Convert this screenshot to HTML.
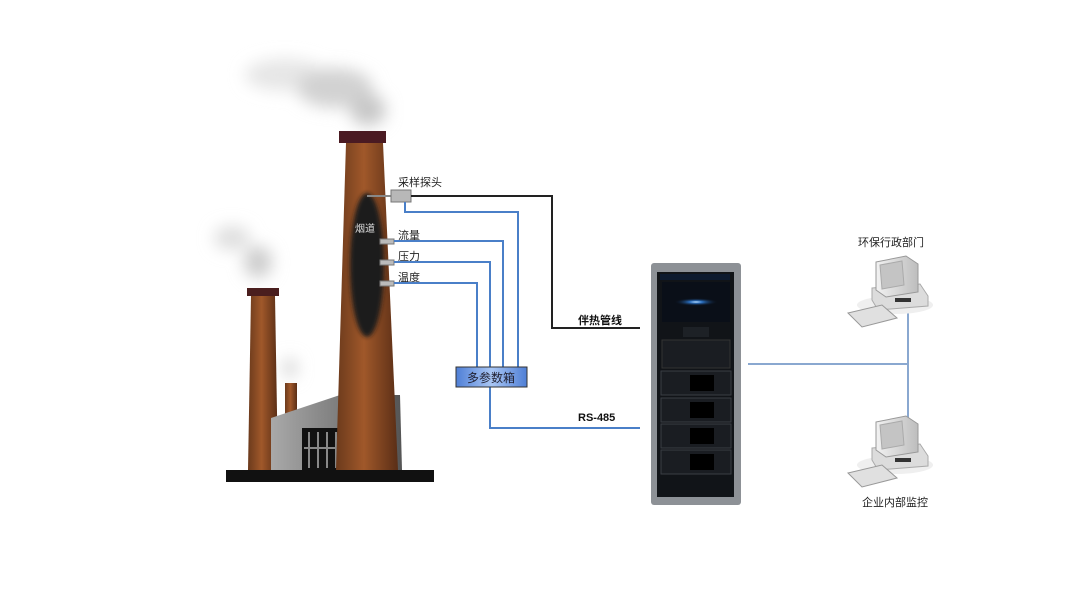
<!DOCTYPE html>
<html><head><meta charset="utf-8"><style>
html,body{margin:0;padding:0;background:#fff;width:1077px;height:605px;overflow:hidden}
text{font-family:"Liberation Sans","Noto Sans CJK SC",sans-serif}
</style></head><body>
<svg width="1077" height="605" viewBox="0 0 1077 605" xmlns="http://www.w3.org/2000/svg">
<defs>
<filter id="blur" x="-50%" y="-50%" width="200%" height="200%"><feGaussianBlur stdDeviation="8"/></filter>
<filter id="blur2" x="-50%" y="-50%" width="200%" height="200%"><feGaussianBlur stdDeviation="2"/></filter>
<linearGradient id="brown" x1="0" x2="1"><stop offset="0" stop-color="#6b3a1c"/><stop offset="0.45" stop-color="#a0582a"/><stop offset="1" stop-color="#5a2e16"/></linearGradient>
<linearGradient id="bld" x1="0" x2="1"><stop offset="0" stop-color="#a9a9a9"/><stop offset="1" stop-color="#555"/></linearGradient>
<linearGradient id="box" x1="0" x2="1"><stop offset="0" stop-color="#4f7fd6"/><stop offset="0.5" stop-color="#a9c6f4"/><stop offset="1" stop-color="#4f7fd6"/></linearGradient>
<linearGradient id="mon" x1="0" x2="1"><stop offset="0" stop-color="#f2f2f2"/><stop offset="1" stop-color="#bdbdbd"/></linearGradient>
<radialGradient id="glow"><stop offset="0" stop-color="#bfe0ff"/><stop offset="0.3" stop-color="#2a6fc0"/><stop offset="1" stop-color="#0a0f18" stop-opacity="0"/></radialGradient>
</defs>
<!-- smoke -->
<g filter="url(#blur)" fill="#cfcfcf">
<ellipse cx="285" cy="75" rx="40" ry="16" fill="#e6e6e6"/>
<ellipse cx="335" cy="88" rx="38" ry="20" fill="#d2d2d2"/>
<ellipse cx="368" cy="110" rx="18" ry="16" fill="#c8c8c8"/>
<ellipse cx="232" cy="238" rx="18" ry="12" fill="#dedede"/>
<ellipse cx="258" cy="262" rx="14" ry="16" fill="#cccccc"/>
<ellipse cx="290" cy="368" rx="7" ry="10" fill="#d4d4d4"/>
</g>
<!-- small chimneys -->
<rect x="247" y="288" width="32" height="8" fill="#4a1e1e"/>
<polygon points="251,296 275,296 278,470 248,470" fill="url(#brown)"/>
<rect x="285" y="383" width="12" height="40" fill="url(#brown)"/>
<!-- building -->
<polygon points="271,418 340,395 400,395 402,470 271,470" fill="url(#bld)"/>
<rect x="302" y="428" width="45" height="42" fill="#111"/>
<g stroke="#888" stroke-width="2"><line x1="309" y1="432" x2="309" y2="468"/><line x1="318" y1="432" x2="318" y2="468"/><line x1="327" y1="432" x2="327" y2="468"/><line x1="336" y1="432" x2="336" y2="468"/><line x1="304" y1="448" x2="345" y2="448"/></g>
<!-- main chimney -->
<rect x="339" y="131" width="47" height="12" fill="#4a1a22"/>
<polygon points="346,143 383,143 398,470 336,470" fill="url(#brown)"/>
<ellipse cx="367" cy="265" rx="17" ry="72" fill="#1c1c1c" filter="url(#blur2)"/>
<text x="355" y="232" font-size="10" fill="#ddd">烟道</text>
<rect x="226" y="470" width="208" height="12" fill="#111"/>
<!-- probes -->
<line x1="367" y1="196" x2="392" y2="196" stroke="#888" stroke-width="2"/>
<rect x="391" y="190" width="20" height="12" fill="#b8b8b8" stroke="#777"/>
<g fill="#bbb" stroke="#777"><rect x="380" y="239" width="14" height="5"/><rect x="380" y="260" width="14" height="5"/><rect x="380" y="281" width="14" height="5"/></g>
<text x="398" y="186" font-size="11" fill="#222">采样探头</text>
<text x="398" y="239" font-size="11" fill="#222">流量</text>
<text x="398" y="260" font-size="11" fill="#222">压力</text>
<text x="398" y="281" font-size="11" fill="#222">温度</text>
<!-- lines -->
<polyline points="411,196 552,196 552,328 640,328" fill="none" stroke="#222" stroke-width="2"/>
<g fill="none" stroke="#4a7fc8" stroke-width="2">
<polyline points="405,202 405,212 518,212 518,370"/>
<polyline points="394,241 503,241 503,370"/>
<polyline points="394,262 490,262 490,370"/>
<polyline points="394,283 477,283 477,370"/>
<polyline points="490,387 490,428 640,428"/>
<line x1="748" y1="364" x2="908" y2="364" stroke="#8aa8d0"/>
<line x1="908" y1="305" x2="908" y2="420" stroke="#8aa8d0"/>
</g>
<rect x="456" y="367" width="71" height="20" fill="url(#box)" stroke="#333"/>
<text x="491" y="382" font-size="12" fill="#223" text-anchor="middle">多参数箱</text>
<text x="578" y="324" font-size="11" font-weight="bold" fill="#111">伴热管线</text>
<text x="578" y="421" font-size="11" font-weight="bold" fill="#111">RS-485</text>
<!-- cabinet -->
<rect x="651" y="263" width="90" height="242" rx="3" fill="#8d9196"/>
<rect x="657" y="272" width="77" height="225" fill="#111418"/>
<rect x="660" y="274" width="70" height="6" fill="#0d1a2e"/>
<rect x="662" y="282" width="68" height="40" fill="#0a0f18"/>
<ellipse cx="696" cy="302" rx="22" ry="4" fill="url(#glow)"/>
<rect x="683" y="327" width="26" height="10" fill="#1d2126"/>
<rect x="662" y="340" width="68" height="28" fill="#1a1d22" stroke="#333"/>
<g fill="#1a1d22" stroke="#3a3e44">
<rect x="661" y="371" width="70" height="24"/><rect x="661" y="398" width="70" height="24"/><rect x="661" y="424" width="70" height="24"/><rect x="661" y="450" width="70" height="24"/></g>
<g fill="#000"><rect x="690" y="375" width="24" height="16"/><rect x="690" y="402" width="24" height="16"/><rect x="690" y="428" width="24" height="16"/><rect x="690" y="454" width="24" height="16"/></g>
<!-- computers -->
<g id="pc">
<ellipse cx="895" cy="305" rx="38" ry="9" fill="#efefef"/>
<polygon points="872,288 920,284 928,296 928,306 878,310 872,300" fill="#dcdcdc" stroke="#aaa"/>
<rect x="895" y="298" width="16" height="4" fill="#333"/>
<polygon points="876,262 906,256 918,264 918,292 886,297 876,290" fill="url(#mon)" stroke="#999"/>
<polygon points="880,265 902,261 904,285 882,289" fill="#c4c4c4" stroke="#aaa"/>
<polygon points="848,313 882,305 897,318 862,327" fill="#e0e0e0" stroke="#999"/>
</g>
<use href="#pc" transform="translate(0,160)"/>
<text x="858" y="246" font-size="11" fill="#222">环保行政部门</text>
<text x="862" y="506" font-size="11" fill="#222">企业内部监控</text>
</svg>
</body></html>
